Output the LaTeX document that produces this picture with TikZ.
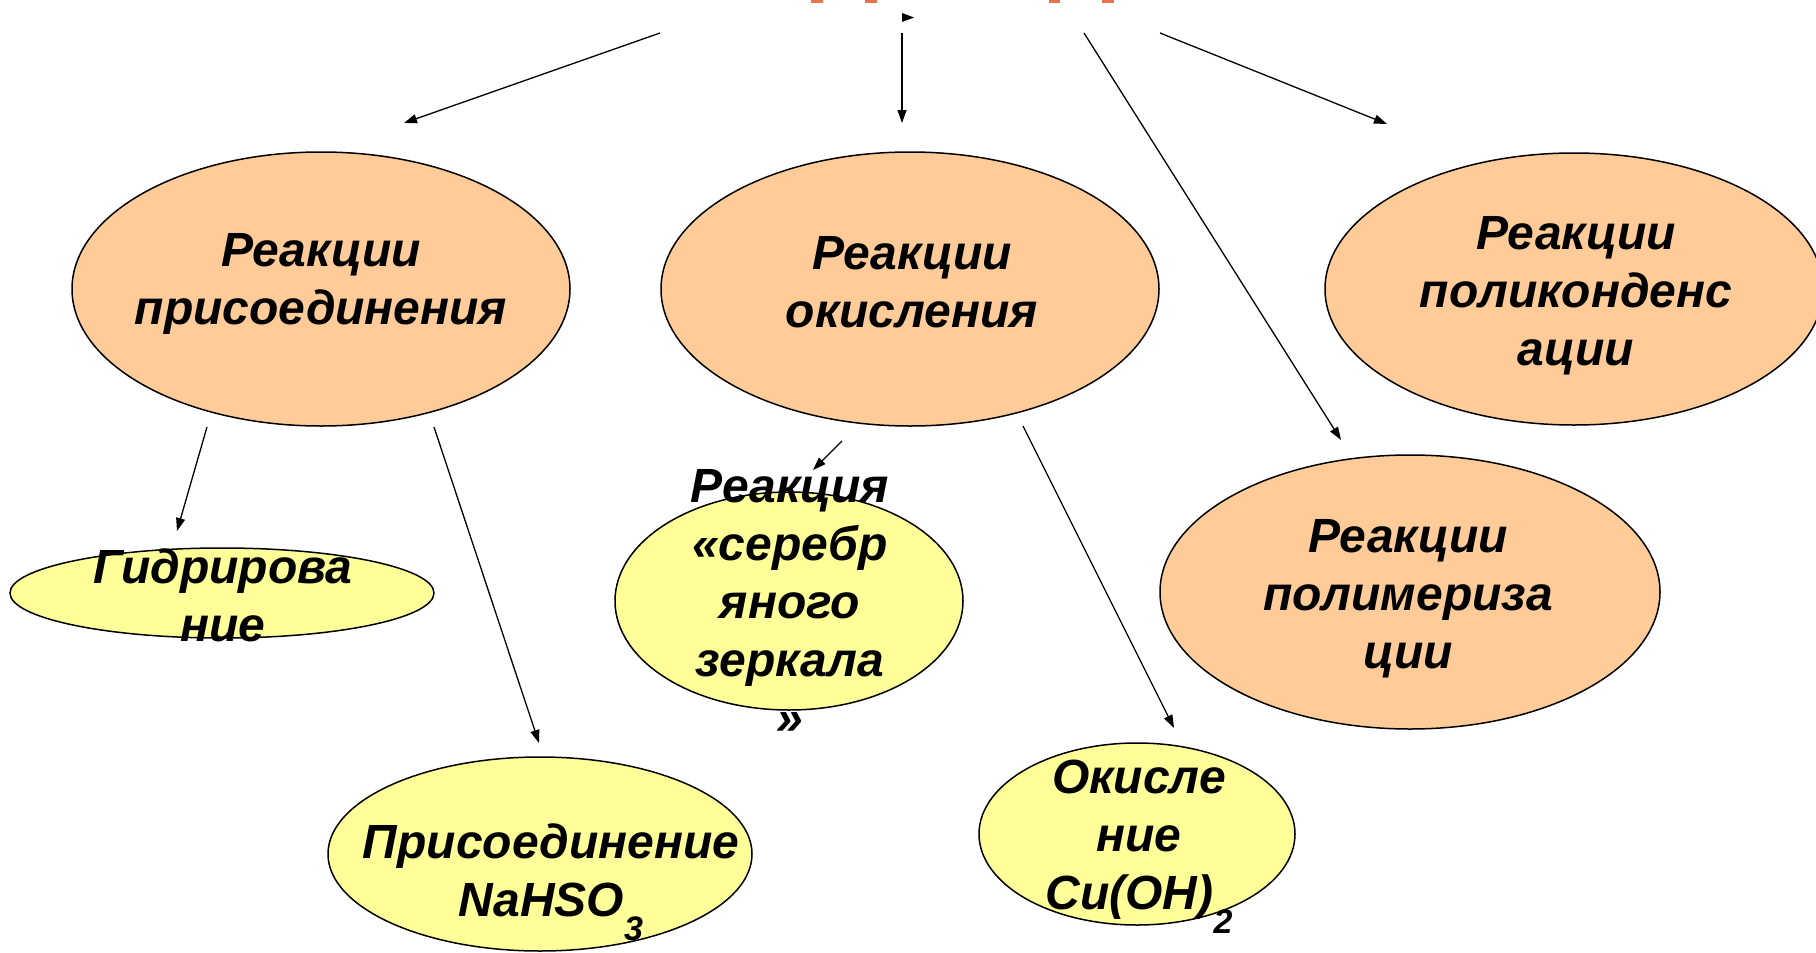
\documentclass[tikz,border=0pt]{standalone}
\usepackage{fontspec}
\setmainfont{Liberation Sans}
\usetikzlibrary{shapes.geometric,arrows.meta}
\definecolor{peach}{HTML}{FFCC99}
\definecolor{lemon}{HTML}{FFFF99}
\definecolor{titlered}{HTML}{E9714C}
\tikzset{
  oval/.style={ellipse, draw, line width=0.75pt, inner sep=0pt},
  lbl/.style={align=center, font=\fontsize{24}{29}\selectfont\bfseries\itshape},
  link/.style={->, line width=0.65pt},
  >={Triangle[length=6.5pt,width=4.5pt]}
}
\begin{document}
\begin{tikzpicture}[x=0.5pt, y=-0.5pt]
      \useasboundingbox (0,0) rectangle (1816,953);

      % tips of the title letters, cut by the page edge
      \fill [titlered] (811,0) rectangle (823,2.5);
      \fill [titlered] (865,0) rectangle (877,2.5);
      \fill [titlered] (1049,0) rectangle (1060,2.5);
      \fill [titlered] (1102,0) rectangle (1114,2.5);
      \fill (902,13) -- (914,17.5) -- (902,22) -- cycle;

      \node [oval, fill=peach, minimum width=249pt, minimum height=137pt] (add) at (321,289) {};
      \node [oval, fill=peach, minimum width=249pt, minimum height=137pt] (oxid) at (910,289) {};
      \node [oval, fill=peach, minimum width=249pt, minimum height=136pt] (polycond) at (1574,289) {};
      \node [oval, fill=peach, minimum width=250pt, minimum height=137pt] (polymer) at (1410,592) {};
      \node [oval, fill=lemon, minimum width=212pt, minimum height=45pt] (hydro) at (222,593) {};
      \node [oval, fill=lemon, minimum width=212pt, minimum height=97pt] (nahso) at (540,854) {};
      \node [oval, fill=lemon, minimum width=174pt, minimum height=109pt] (mirror) at (789,601) {};
      \node [oval, fill=lemon, minimum width=158pt, minimum height=91pt] (cuoh) at (1137,834) {};

      \node [lbl] (addtext) at (321,284) {Реакции\\присоединения};
      \node [lbl] (oxidtext) at (912,282) {Реакции\\окисления};
      \node [lbl] (polycondtext) at (1576,296) {Реакции\\поликонденс\\ации};
      \node [lbl] (polymertext) at (1408,599) {Реакции\\полимериза\\ции};
      \node [lbl] (hydrotext) at (223,595) {Гидрирова\\ние};
      \node [lbl] (nahsotext) at (551,882) {Присоединение\\NaHSO\raisebox{-0.5em}{\fontsize{17}{17}\selectfont 3}};
      \node [lbl] (mirrortext) at (790,602) {Реакция\\«серебр\\яного\\зеркала\\»};
      \node [lbl] (cuohtext) at (1139,847) {Окисле\\ние\\Cu(OH)\raisebox{-0.5em}{\fontsize{17}{17}\selectfont 2}};

      \coordinate (t1) at (660,33);  \coordinate (h1) at (404,123);
      \coordinate (t2) at (902,33);  \coordinate (h2) at (902,123);
      \coordinate (t3) at (1084,33); \coordinate (h3) at (1341,440);
      \coordinate (t4) at (1160,33); \coordinate (h4) at (1387,124);
      \coordinate (t5) at (207,427); \coordinate (h5) at (177,531);
      \coordinate (t6) at (434,427); \coordinate (h6) at (539,743);
      \coordinate (t7) at (842,441); \coordinate (h7) at (813,470);
      \coordinate (t8) at (1023,426); \coordinate (h8) at (1174,728);

      \draw [link] (t1) -- (h1);
      \draw [link] (t2) -- (h2);
      \draw [link] (t3) -- (h3);
      \draw [link] (t4) -- (h4);
      \draw [link] (t5) -- (h5);
      \draw [link] (t6) -- (h6);
      \draw [link] (t7) -- (h7);
      \draw [link] (t8) -- (h8);
\end{tikzpicture}
\end{document}
